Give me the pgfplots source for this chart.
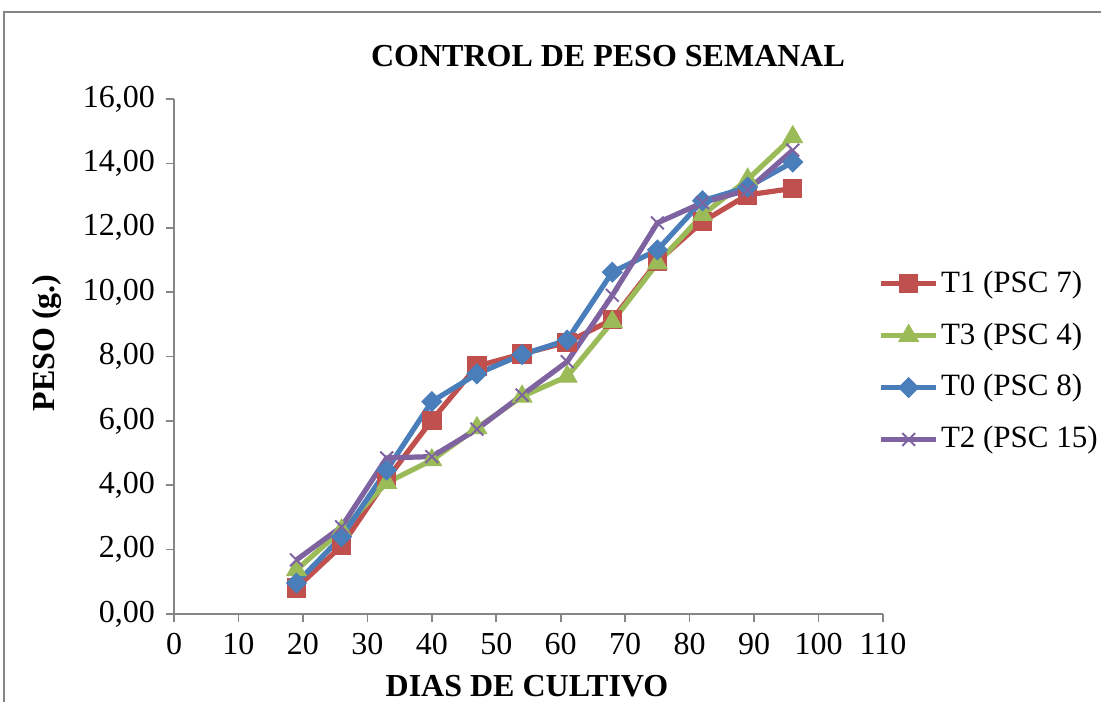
\documentclass[border=0pt]{standalone}
\usepackage{pgfplots}
\pgfplotsset{compat=1.18}
\usepackage{fontspec}
\setmainfont{Liberation Serif}
\definecolor{cred}{HTML}{C0504D}
\definecolor{cgreen}{HTML}{9BBB59}
\definecolor{cblue}{HTML}{4A7EBB}
\definecolor{cpurple}{HTML}{7F63A1}
\definecolor{axisgray}{RGB}{134,134,134}
\begin{document}
\fontsize{16}{19}\selectfont
\begin{tikzpicture}
\useasboundingbox (0,0) rectangle (550.5pt,351pt);
\draw[color=axisgray, line width=1pt] (2pt,0pt) -- (2pt,345pt) -- (551pt,345pt);
\begin{axis}[
  at={(87pt,44pt)}, anchor=south west, scale only axis,
  width=354.5pt, height=257.5pt,
  xmin=0, xmax=110, ymin=0, ymax=16,
  xtick={0,10,...,110}, ytick={0,2,...,16},
  axis lines=left, axis line style={-, color=axisgray, line width=0.8pt},
  tick align=outside, major tick length=4pt,
  tick style={color=axisgray, line width=0.8pt},
  /pgf/number format/assume math mode=true,
  yticklabel style={/pgf/number format/.cd, fixed, fixed zerofill, precision=2, use comma},
  tick label style={font=\fontsize{16}{19}\selectfont},
  legend cell align=left,
  legend style={draw=none, fill=none, at={(0.985,0.490)}, anchor=west,
    row sep=8.8pt, font=\fontsize{15.5}{18.5}\selectfont,
    nodes={inner xsep=1.2pt}},
  legend image code/.code={\draw[mark repeat=2,mark phase=2] plot coordinates {(0cm,0cm) (0.48cm,0cm) (0.96cm,0cm)};},
  every axis plot/.append style={line width=2.6pt},
]
\addplot[color=cred, mark=square*, mark size=4.6pt, mark options={line width=0.5pt}] coordinates {
 (19,0.81) (26,2.12) (33,4.18) (40,6.02) (47,7.70) (54,8.08) (61,8.44) (68,9.15) (75,10.95) (82,12.19) (89,13.02) (96,13.22)};
\addlegendentry{T1 (PSC 7)}
\addplot[color=cgreen, mark=triangle*, mark size=5.6pt, mark options={line width=0.5pt}] coordinates {
 (19,1.37) (26,2.60) (33,4.08) (40,4.78) (47,5.78) (54,6.76) (61,7.38) (68,9.08) (75,10.90) (82,12.40) (89,13.50) (96,14.82)};
\addlegendentry{T3 (PSC 4)}
\addplot[color=cblue, mark=square*, mark size=3.5pt, mark options={rotate=45, line width=0.5pt}] coordinates {
 (19,0.96) (26,2.40) (33,4.47) (40,6.60) (47,7.46) (54,8.06) (61,8.51) (68,10.62) (75,11.31) (82,12.84) (89,13.26) (96,14.04)};
\addlegendentry{T0 (PSC 8)}
\addplot[color=cpurple, mark=x, mark size=4.5pt, mark options={line width=1pt}] coordinates {
 (19,1.68) (26,2.71) (33,4.85) (40,4.89) (47,5.74) (54,6.80) (61,7.84) (68,9.90) (75,12.15) (82,12.78) (89,13.17) (96,14.41)};
\addlegendentry{T2 (PSC 15)}
\end{axis}
\node[font=\bfseries\fontsize{16}{19}\selectfont] at (304pt,323pt) {CONTROL DE PESO SEMANAL};
\node[font=\bfseries\fontsize{16}{19}\selectfont, rotate=90] at (23.5pt,179.5pt) {PESO (g.)};
\node[font=\bfseries\fontsize{16}{19}\selectfont] at (263.5pt,8pt) {DIAS DE CULTIVO};
\end{tikzpicture}
\end{document}
